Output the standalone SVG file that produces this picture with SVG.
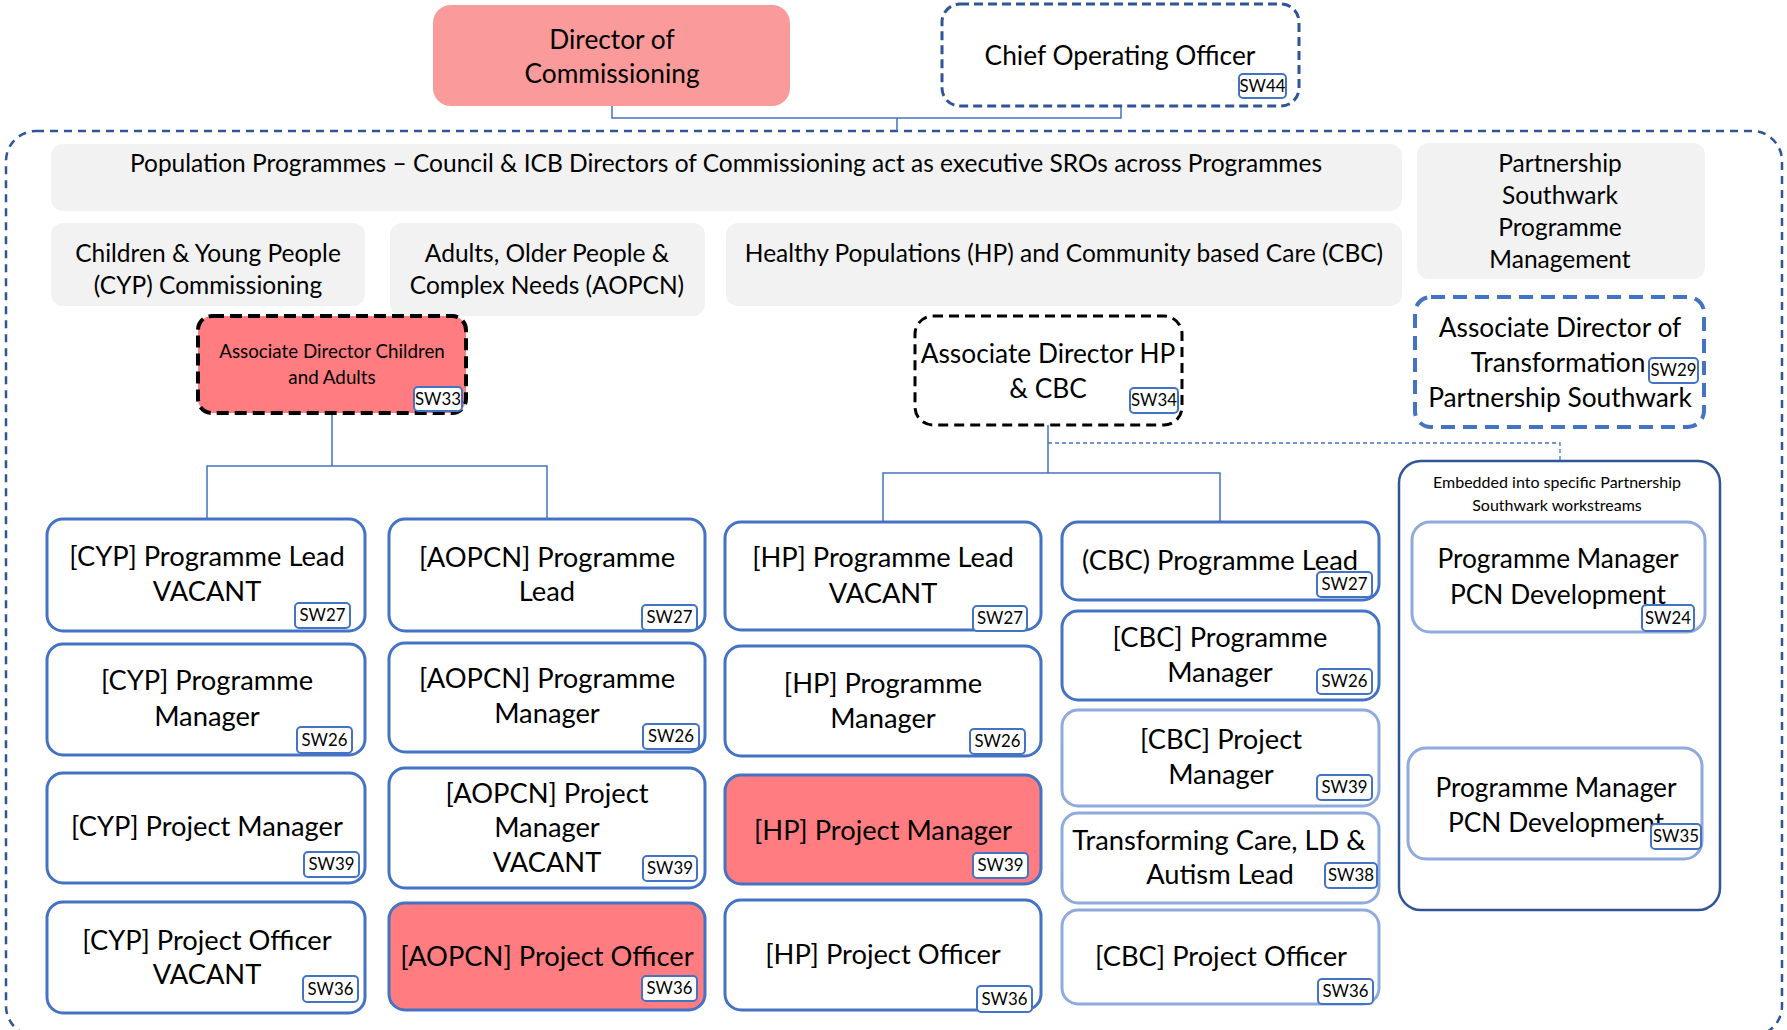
<svg xmlns="http://www.w3.org/2000/svg" width="1787" height="1030" viewBox="0 0 1787 1030">
<style>
text{font-family:Lato,"Liberation Sans",sans-serif;fill:#000;text-anchor:middle}
.t28{font-size:26.3px}
.t29{font-size:27.3px}
.t26{font-size:24.5px}
.t20{font-size:18.8px}
.t17{font-size:16px}
.bt{font-size:16.8px}
.box{fill:#fff;stroke:#4472C4;stroke-width:3}
.lbox{fill:#fff;stroke:#8FAADC;stroke-width:3}
.red{fill:#FF7C80;stroke:#4472C4;stroke-width:3}
.gray{fill:#F2F2F2;stroke:none}
.badge{fill:#fff;stroke:#4472C4;stroke-width:2}
.con{fill:none;stroke:#4472C4;stroke-width:1.5}
</style>

<rect x="6" y="131" width="1776" height="905" rx="30" fill="none" stroke="#2F5597" stroke-width="2.5" stroke-dasharray="8 6"/>

<g id="connectors">
<path class="con" d="M612 106V118H1121V106M897 118V131"/>
<path class="con" d="M332 413V466M207 519V466H547V519"/>
<path class="con" d="M1048 425V473M883 522V473H1220V522"/>
<path d="M1048 443H1560V461" fill="none" stroke="#4472C4" stroke-width="1.3" stroke-dasharray="4 3"/>
</g>

<g id="director">
<rect x="433" y="5" width="357" height="101" rx="18" fill="#FA9A9B"/>
<text class="t28" x="612" y="49">Director of</text>
<text class="t28" x="612" y="83">Commissioning</text>
</g>

<g id="coo">
<rect x="942" y="4" width="357" height="102" rx="18" fill="#fff" stroke="#2F5597" stroke-width="3" stroke-dasharray="9 5"/>
<text class="t28" x="1120" y="65">Chief Operating Officer</text>
<rect class="badge" x="1239" y="74" width="47" height="24" rx="4"/>
<text class="bt" x="1262.5" y="92">SW44</text>
</g>

<g id="hdr-pop">
<rect class="gray" x="51" y="144" width="1351" height="67" rx="12"/>
<text class="t26" x="726" y="172">Population Programmes – Council &amp; ICB Directors of Commissioning act as executive SROs across Programmes</text>
</g>
<g id="hdr-ps">
<rect class="gray" x="1417" y="143" width="288" height="136" rx="12"/>
<text class="t26" x="1560" y="172">Partnership</text>
<text class="t26" x="1560" y="204">Southwark</text>
<text class="t26" x="1560" y="236">Programme</text>
<text class="t26" x="1560" y="268">Management</text>
</g>
<g id="hdr-cyp">
<rect class="gray" x="51" y="223" width="314" height="83" rx="12"/>
<text class="t26" x="208" y="262">Children &amp; Young People</text>
<text class="t26" x="208" y="294">(CYP) Commissioning</text>
</g>
<g id="hdr-aopcn">
<rect class="gray" x="390" y="223" width="315" height="93" rx="12"/>
<text class="t26" x="547" y="262">Adults, Older People &amp;</text>
<text class="t26" x="547" y="294">Complex Needs (AOPCN)</text>
</g>
<g id="hdr-hp">
<rect class="gray" x="726" y="223" width="676" height="83" rx="12"/>
<text class="t26" x="1064" y="262">Healthy Populations (HP) and Community based Care (CBC)</text>
</g>

<g id="ad-ca">
<rect x="198" y="316" width="268" height="97" rx="14" fill="#FF7C80" stroke="#000" stroke-width="4" stroke-dasharray="12 6"/>
<text class="t20" x="332" y="358">Associate Director Children</text>
<text class="t20" x="332" y="384">and Adults</text>
<rect class="badge" x="414" y="387" width="48" height="24" rx="4"/>
<text class="bt" x="438" y="405">SW33</text>
</g>

<g id="ad-hp">
<rect x="915" y="316" width="267" height="109" rx="18" fill="#fff" stroke="#000" stroke-width="3" stroke-dasharray="10 6"/>
<text class="t28" x="1048" y="363">Associate Director HP</text>
<text class="t28" x="1048" y="398">&amp; CBC</text>
<rect class="badge" x="1130" y="388" width="48" height="25" rx="4"/>
<text class="bt" x="1154" y="406">SW34</text>
</g>

<g id="ad-tps">
<rect x="1415" y="297" width="289" height="130" rx="16" fill="#fff" stroke="#4472C4" stroke-width="4" stroke-dasharray="14 8"/>
<text class="t28" x="1560" y="337">Associate Director of</text>
<text class="t28" x="1558" y="372">Transformation</text>
<text class="t28" x="1560" y="407">Partnership Southwark</text>
<rect class="badge" x="1649" y="358" width="49" height="25" rx="4"/>
<text class="bt" x="1673.5" y="376">SW29</text>
</g>

<g id="embedded">
<rect x="1399" y="461" width="321" height="449" rx="22" fill="#fff" stroke="#2F5597" stroke-width="2.5"/>
<text class="t17" x="1557" y="488">Embedded into specific Partnership</text>
<text class="t17" x="1557" y="511">Southwark workstreams</text>
</g>
<g id="pcn24">
<rect class="lbox" x="1412" y="522" width="293" height="110" rx="18"/>
<text class="t28" x="1558" y="568">Programme Manager</text>
<text class="t28" x="1558" y="604">PCN Development</text>
<rect class="badge" x="1642" y="605" width="52" height="26" rx="4"/>
<text class="bt" x="1668" y="624">SW24</text>
</g>
<g id="pcn35">
<rect class="lbox" x="1408" y="748" width="294" height="111" rx="18"/>
<text class="t28" x="1556" y="797">Programme Manager</text>
<text class="t28" x="1556" y="832">PCN Development</text>
<rect class="badge" x="1651" y="824" width="50" height="25" rx="4"/>
<text class="bt" x="1676" y="842">SW35</text>
</g>

<g id="cyp-pl">
<rect class="box" x="47" y="519" width="318" height="112" rx="16"/>
<text class="t29" x="207" y="566">[CYP] Programme Lead</text>
<text class="t29" x="207" y="601">VACANT</text>
<rect class="badge" x="295" y="603" width="55" height="25" rx="4"/>
<text class="bt" x="322.5" y="621">SW27</text>
</g>
<g id="cyp-pm">
<rect class="box" x="47" y="644" width="318" height="111" rx="16"/>
<text class="t29" x="207" y="690">[CYP] Programme</text>
<text class="t29" x="207" y="726">Manager</text>
<rect class="badge" x="297" y="727" width="55" height="26" rx="4"/>
<text class="bt" x="324.5" y="746">SW26</text>
</g>
<g id="cyp-prm">
<rect class="box" x="47" y="773" width="318" height="110" rx="16"/>
<text class="t29" x="207" y="836">[CYP] Project Manager</text>
<rect class="badge" x="304" y="852" width="55" height="25" rx="4"/>
<text class="bt" x="331.5" y="870">SW39</text>
</g>
<g id="cyp-po">
<rect class="box" x="47" y="902" width="318" height="111" rx="16"/>
<text class="t29" x="207" y="950">[CYP] Project Officer</text>
<text class="t29" x="207" y="984">VACANT</text>
<rect class="badge" x="303" y="976" width="55" height="26" rx="4"/>
<text class="bt" x="330.5" y="995">SW36</text>
</g>

<g id="aopcn-pl">
<rect class="box" x="389" y="519" width="316" height="112" rx="16"/>
<text class="t29" x="547" y="567">[AOPCN] Programme</text>
<text class="t29" x="547" y="601">Lead</text>
<rect class="badge" x="642" y="605" width="55" height="25" rx="4"/>
<text class="bt" x="669.5" y="623">SW27</text>
</g>
<g id="aopcn-pm">
<rect class="box" x="389" y="643" width="316" height="109" rx="16"/>
<text class="t29" x="547" y="688">[AOPCN] Programme</text>
<text class="t29" x="547" y="723">Manager</text>
<rect class="badge" x="643" y="724" width="56" height="25" rx="4"/>
<text class="bt" x="671" y="742">SW26</text>
</g>
<g id="aopcn-prm">
<rect class="box" x="389" y="768" width="316" height="120" rx="16"/>
<text class="t29" x="547" y="803">[AOPCN] Project</text>
<text class="t29" x="547" y="837">Manager</text>
<text class="t29" x="547" y="872">VACANT</text>
<rect class="badge" x="643" y="856" width="54" height="25" rx="4"/>
<text class="bt" x="670" y="874">SW39</text>
</g>
<g id="aopcn-po">
<rect class="red" x="389" y="903" width="316" height="107" rx="16"/>
<text class="t29" x="547" y="966">[AOPCN] Project Officer</text>
<rect class="badge" x="642" y="976" width="55" height="25" rx="4"/>
<text class="bt" x="669.5" y="994">SW36</text>
</g>

<g id="hp-pl">
<rect class="box" x="725" y="522" width="316" height="108" rx="16"/>
<text class="t29" x="883" y="567">[HP] Programme Lead</text>
<text class="t29" x="883" y="603">VACANT</text>
<rect class="badge" x="973" y="606" width="54" height="25" rx="4"/>
<text class="bt" x="1000" y="624">SW27</text>
</g>
<g id="hp-pm">
<rect class="box" x="725" y="646" width="316" height="110" rx="16"/>
<text class="t29" x="883" y="693">[HP] Programme</text>
<text class="t29" x="883" y="728">Manager</text>
<rect class="badge" x="970" y="729" width="55" height="25" rx="4"/>
<text class="bt" x="997.5" y="747">SW26</text>
</g>
<g id="hp-prm">
<rect class="red" x="725" y="775" width="316" height="109" rx="16"/>
<text class="t29" x="883" y="840">[HP] Project Manager</text>
<rect class="badge" x="973" y="853" width="55" height="25" rx="4"/>
<text class="bt" x="1000.5" y="871">SW39</text>
</g>
<g id="hp-po">
<rect class="box" x="725" y="900" width="316" height="110" rx="16"/>
<text class="t29" x="883" y="964">[HP] Project Officer</text>
<rect class="badge" x="977" y="986" width="55" height="26" rx="4"/>
<text class="bt" x="1004.5" y="1005">SW36</text>
</g>

<g id="cbc-pl">
<rect class="box" x="1062" y="522" width="317" height="78" rx="16"/>
<text class="t29" x="1220" y="570">(CBC) Programme Lead</text>
<rect class="badge" x="1317" y="572" width="55" height="25" rx="4"/>
<text class="bt" x="1344.5" y="590">SW27</text>
</g>
<g id="cbc-pm">
<rect class="box" x="1062" y="611" width="317" height="89" rx="16"/>
<text class="t29" x="1220" y="647">[CBC] Programme</text>
<text class="t29" x="1220" y="682">Manager</text>
<rect class="badge" x="1317" y="669" width="55" height="25" rx="4"/>
<text class="bt" x="1344.5" y="687">SW26</text>
</g>
<g id="cbc-prm">
<rect class="lbox" x="1062" y="710" width="317" height="96" rx="16"/>
<text class="t29" x="1221" y="749">[CBC] Project</text>
<text class="t29" x="1221" y="784">Manager</text>
<rect class="badge" x="1317" y="775" width="55" height="25" rx="4"/>
<text class="bt" x="1344.5" y="793">SW39</text>
</g>
<g id="tc">
<rect class="lbox" x="1062" y="813" width="317" height="90" rx="16"/>
<text class="t29" x="1219" y="850">Transforming Care, LD &amp;</text>
<text class="t29" x="1220" y="884">Autism Lead</text>
<rect class="badge" x="1325" y="863" width="52" height="25" rx="4"/>
<text class="bt" x="1351" y="881">SW38</text>
</g>
<g id="cbc-po">
<rect class="lbox" x="1062" y="910" width="317" height="94" rx="16"/>
<text class="t29" x="1221" y="966">[CBC] Project Officer</text>
<rect class="badge" x="1318" y="979" width="55" height="25" rx="4"/>
<text class="bt" x="1345.5" y="997">SW36</text>
</g>
</svg>
